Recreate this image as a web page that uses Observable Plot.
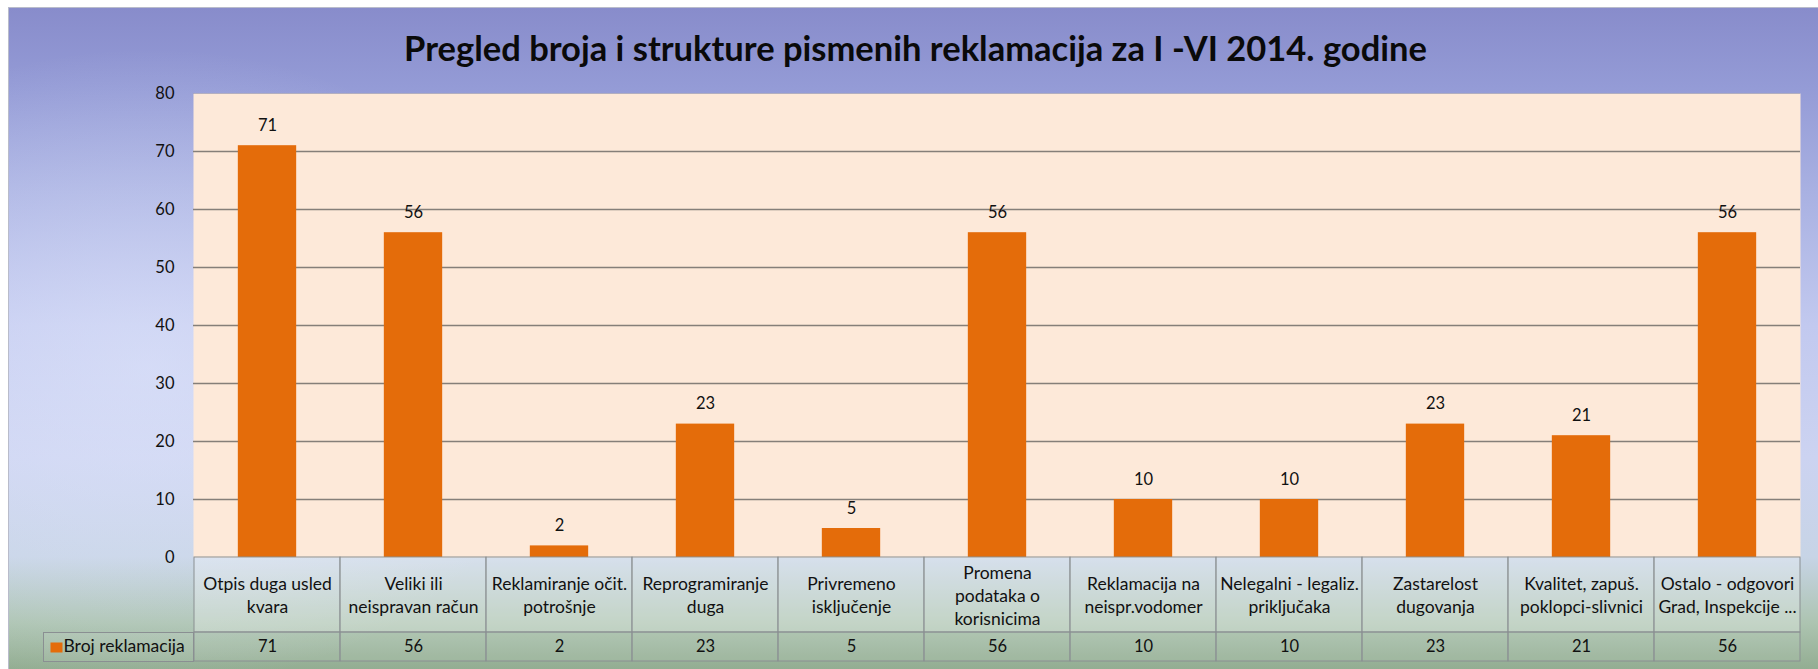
<!DOCTYPE html>
<html>
<head>
<meta charset="utf-8">
<script src="https://cdn.jsdelivr.net/npm/d3@7"></script>
<script src="https://cdn.jsdelivr.net/npm/@observablehq/plot@0.6"></script>
<style>
  html, body { margin: 0; padding: 0; background: #ffffff; }
  #wrap { position: relative; width: 1818px; height: 669px; overflow: hidden; }
  #bg {
    position: absolute; left: 8px; top: 7px; right: 0; bottom: 0;
    border-left: 1px solid #b9bccb; border-top: 1px solid #b9bccb;
    background:
      radial-gradient(ellipse 420px 320px at 140px 360px, rgba(226,232,252,0.55), rgba(226,232,252,0)),
      linear-gradient(to bottom, #888ccb 0%, #949bd6 12%, #a9b1e2 28%, #c2c9ef 48%, #ccd3f1 68%, #c7d4e6 83%, #adc4b1 93%, #93ad92 100%);
  }
  #chart { position: absolute; left: 0; top: 0; }
</style>
</head>
<body>
<div id="wrap"><div id="bg"></div><div id="chart"></div></div>
<script>
const title = "Pregled broja i strukture pismenih reklamacija za I -VI 2014. godine";
const seriesName = "Broj reklamacija";
const categories = [
  "Otpis duga usled\nkvara",
  "Veliki ili\nneispravan račun",
  "Reklamiranje očit.\npotrošnje",
  "Reprogramiranje\nduga",
  "Privremeno\nisključenje",
  "Promena\npodataka o\nkorisnicima",
  "Reklamacija na\nneispr.vodomer",
  "Nelegalni - legaliz.\npriključaka",
  "Zastarelost\ndugovanja",
  "Kvalitet, zapuš.\npoklopci-slivnici",
  "Ostalo - odgovori\nGrad, Inspekcije ..."
];
const values = [71, 56, 2, 23, 5, 56, 10, 10, 23, 21, 56];
const yTicks = [0, 10, 20, 30, 40, 50, 60, 70, 80];

const data = categories.map((c, i) => ({category: c, value: values[i]}));

const orange = "#e46c0a";
const tableStroke = "#8a8f92";
const textColor = "#111111";
const W = 1818, H = 669;
const mL = 193, mR = 18, mT = 93, mB = 112;
const plotW = W - mL - mR;
const step = plotW / categories.length;
const barInset = step * 0.3;

const chart = Plot.plot({
  width: W,
  height: H,
  marginLeft: mL,
  marginRight: mR,
  marginTop: mT,
  marginBottom: mB,
  style: {background: "transparent", fontFamily: "Lato, 'Open Sans', sans-serif", color: textColor, overflow: "visible"},
  x: {domain: categories, padding: 0, axis: null},
  y: {domain: [0, 80], axis: null},
  marks: [
    Plot.frame({fill: "#fde9d9", stroke: null}),
    Plot.gridY(yTicks.filter(t => t > 0 && t < 80), {stroke: "#857f79", strokeOpacity: 1, strokeWidth: 1.3}),
    Plot.gridY([80], {stroke: "#9a9aa8", strokeOpacity: 0.5, strokeWidth: 1}),
    Plot.axisY(yTicks, {tickSize: 0, tickPadding: 19, fontSize: 16.5, label: null, fill: textColor}),
    Plot.barY(data, {x: "category", y: "value", fill: orange, insetLeft: barInset, insetRight: barInset}),
    Plot.text(data, {x: "category", y: "value", text: d => String(d.value), dy: -20, lineAnchor: "middle", fontSize: 16.5, fill: textColor}),
    // table: category row
    Plot.barY(data, {x: "category", y1: 0, y2: 0, insetBottom: -75, fill: "#ffffff", fillOpacity: 0.28, stroke: tableStroke, strokeWidth: 1}),
    // table: value row
    Plot.barY(data, {x: "category", y1: 0, y2: 0, insetTop: 75, insetBottom: -104, fill: "#ffffff", fillOpacity: 0.08, stroke: tableStroke, strokeWidth: 1}),
    // header cell for series
    Plot.frame({insetLeft: -150, insetRight: plotW, insetTop: 464 + 75, insetBottom: -104, stroke: tableStroke, fill: "#ffffff", fillOpacity: 0.08}),
    // legend swatch
    Plot.frame({insetLeft: -143, insetRight: plotW + 143 - 12, insetTop: 464 + 85, insetBottom: -95, fill: orange, stroke: null}),
    Plot.text([seriesName], {frameAnchor: "bottom-left", dx: -130, dy: 89, textAnchor: "start", lineAnchor: "middle", fontSize: 17.5, fill: textColor}),
    Plot.text(data, {x: "category", text: "category", frameAnchor: "bottom", dy: 37, lineAnchor: "middle", lineHeight: 1.32, fontSize: 17.5, fill: textColor}),
    Plot.text(data, {x: "category", text: d => String(d.value), frameAnchor: "bottom", dy: 89, lineAnchor: "middle", fontSize: 16.5, fill: textColor}),
    Plot.text([title], {frameAnchor: "top", dy: -44, dx: 915 - (mL + plotW / 2), lineAnchor: "middle", fontSize: 34.5, fontWeight: "bold", fill: "#0a0a0a"})
  ]
});
document.getElementById("chart").appendChild(chart);
</script>
</body>
</html>
